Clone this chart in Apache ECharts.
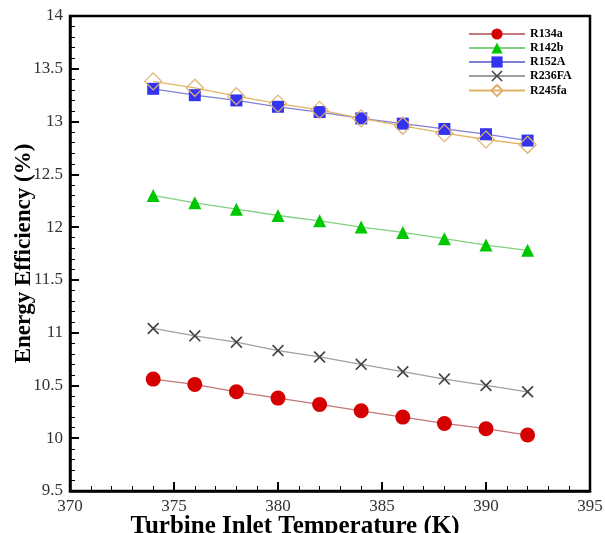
<!DOCTYPE html>
<html>
<head>
<meta charset="utf-8">
<style type="text/css">
html, body { margin: 0; padding: 0; background: #fff; }
#chart { width: 605px; height: 533px; }
</style>
<script type="text/javascript" src="https://cdn.jsdelivr.net/npm/echarts@6/dist/echarts.min.js"></script>
</head>
<body>
<div id="chart"></div>
<script type="text/javascript">
// turbine inlet temperature (K)
var temps = [374, 376, 378, 380, 382, 384, 386, 388, 390, 392];
// energy efficiency (%)
var r134a  = [10.56, 10.51, 10.44, 10.38, 10.32, 10.26, 10.20, 10.14, 10.09, 10.03];
var r142b  = [12.30, 12.23, 12.17, 12.11, 12.06, 12.00, 11.95, 11.89, 11.83, 11.78];
var r152a  = [13.31, 13.25, 13.20, 13.14, 13.09, 13.03, 12.98, 12.93, 12.88, 12.82];
var r236fa = [11.04, 10.97, 10.91, 10.83, 10.77, 10.70, 10.63, 10.56, 10.50, 10.44];
var r245fa = [13.38, 13.32, 13.24, 13.17, 13.11, 13.03, 12.96, 12.89, 12.83, 12.78];
var names  = ['R134a', 'R142b', 'R152A', 'R236FA', 'R245fa'];

var serif = '"Liberation Serif", "Times New Roman", serif';
var cross = 'path://M0,1L1,0L5,4L9,0L10,1L6,5L10,9L9,10L5,6L1,10L0,9L4,5Z';

function pairs(ys) {
	return temps.map(function (t, i) { return [t, ys[i]]; });
}

function mk(name, ys, lineColor, sym, size, fill, border) {
	return {
		name: name,
		type: 'line',
		data: pairs(ys),
		symbol: sym,
		symbolSize: size,
		showAllSymbol: true,
		lineStyle: { color: lineColor, width: 1.3 },
		itemStyle: { color: fill, borderColor: border || fill, borderWidth: border ? 1.2 : 0 },
		emphasis: { disabled: true },
		z: 3
	};
}

var chart = echarts.init(document.getElementById('chart'));
chart.setOption({
	animation: false,
	grid: {
		left: 70, top: 16, width: 520, height: 475,
		outerBoundsMode: 'none',
		show: true, borderColor: '#000', borderWidth: 2.5
	},
	legend: {
		orient: 'vertical',
		left: 463, top: 23,
		itemWidth: 56, itemHeight: 14, itemGap: 2,
		data: names,
		textStyle: { fontFamily: serif, fontWeight: 'bold', fontSize: 12, color: '#000' }
	},
	xAxis: {
		type: 'value',
		min: 370, max: 395, interval: 5,
		name: 'Turbine Inlet Temperature (K)',
		nameLocation: 'middle', nameGap: 23, nameMoveOverlap: false,
		nameTextStyle: { fontFamily: serif, fontWeight: 'bold', fontSize: 25, color: '#000', padding: [0, 70, 0, 0] },
		axisLine: { lineStyle: { color: '#000', width: 2.5 } },
		axisTick: { inside: true, length: 9, lineStyle: { color: '#000', width: 2 } },
		minorTick: { show: true, splitNumber: 5, length: 5, lineStyle: { color: '#000', width: 1 } },
		splitLine: { show: false },
		axisLabel: { fontFamily: serif, fontSize: 17, color: '#333', margin: 7 }
	},
	yAxis: {
		type: 'value',
		min: 9.5, max: 14, interval: 0.5,
		name: 'Energy Efficiency (%)',
		nameLocation: 'middle', nameGap: 34, nameMoveOverlap: false,
		nameTextStyle: { fontFamily: serif, fontWeight: 'bold', fontSize: 23, color: '#000' },
		axisLine: { lineStyle: { color: '#000', width: 2.5 } },
		axisTick: { inside: true, length: 9, lineStyle: { color: '#000', width: 2 } },
		minorTick: { show: true, splitNumber: 5, length: 5, lineStyle: { color: '#000', width: 1 } },
		splitLine: { show: false },
		axisLabel: { fontFamily: serif, fontSize: 17, color: '#333', margin: 7 }
	},
	series: [
		mk(names[0], r134a, '#c07878', 'circle', 15, '#d50000'),
		mk(names[1], r142b, '#80d080', 'triangle', 13, '#00c800'),
		mk(names[2], r152a, '#8080d8', 'rect', 12, '#3434f0'),
		mk(names[3], r236fa, '#a0a0a0', cross, 12, '#444444'),
		mk(names[4], r245fa, '#e0b468', 'diamond', 17, 'rgba(255,255,255,0)', '#e0b070')
	]
});
</script>
</body>
</html>
